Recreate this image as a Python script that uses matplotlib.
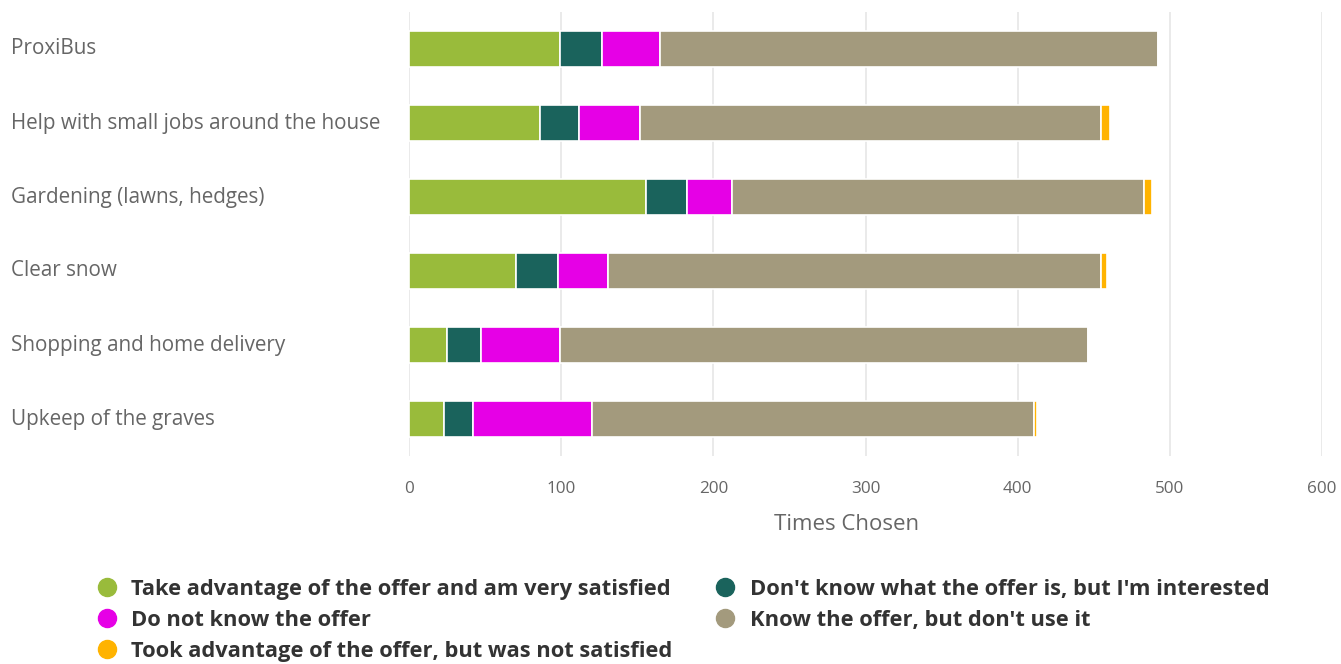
import matplotlib
matplotlib.use("Agg")
import matplotlib.pyplot as plt
from matplotlib.lines import Line2D
from matplotlib.transforms import blended_transform_factory
import numpy as np

plt.rcParams['font.family'] = ['Open Sans', 'DejaVu Sans']

categories = ["ProxiBus", "Help with small jobs around the house", "Gardening (lawns, hedges)",
              "Clear snow", "Shopping and home delivery", "Upkeep of the graves"]
series_names = ["Take advantage of the offer and am very satisfied",
                "Don't know what the offer is, but I'm interested",
                "Do not know the offer",
                "Know the offer, but don't use it",
                "Took advantage of the offer, but was not satisfied"]
very_satisfied = [99, 86, 156, 70, 25, 23]
interested = [28, 26, 27, 28, 22, 19]
not_know = [38, 40, 29, 33, 52, 78]
know_not_use = [327, 303, 271, 324, 347, 291]
not_satisfied = [0, 6, 5, 4, 0, 2]
colors = ["#99BB3B", "#1A635C", "#E600E6", "#A39A7D", "#FFB300"]
xticks = [0, 100, 200, 300, 400, 500, 600]

fig = plt.figure(figsize=(13.41, 6.64), dpi=100)
ax = fig.add_axes([409/1341, 1-456/664, (1322-409)/1341, (456-12)/664])

y = np.arange(len(categories))
left = np.zeros(len(categories))
series = [very_satisfied, interested, not_know, know_not_use, not_satisfied]
for vals, c in zip(series, colors):
    vals = np.array(vals, dtype=float)
    ax.barh(y, vals, left=left, height=0.48, color=c, edgecolor='white', linewidth=1.2, zorder=3)
    left += vals

ax.set_ylim(len(categories)-0.5, -0.5)
ax.set_xlim(0, 600)
ax.set_xticks(xticks)
ax.set_xticklabels([str(t) for t in xticks], fontsize=12.3, color='#666666')
ax.tick_params(axis='x', length=0, pad=18)
ax.set_yticks([])
ax.grid(axis='x', color='#e6e6e6', linewidth=1.2, zorder=0)
for s in ['top', 'right', 'bottom', 'left']:
    ax.spines[s].set_visible(False)
ax.set_xlabel("Times Chosen", fontsize=16, color='#666666')
ax.xaxis.set_label_coords((847-409)/(1322-409), -(524-456)/(456-12), transform=ax.transAxes)
ax.xaxis.label.set_va('center')

tr = blended_transform_factory(fig.transFigure, ax.transData)
for yi, cat in zip(y, categories):
    ax.text(11/1341, yi, cat, transform=tr, ha='left', va='center', fontsize=14.9, color='#666666')

handles = [Line2D([], [], marker='o', linestyle='none', markersize=13, markerfacecolor=c,
                  markeredgecolor=c) for c in colors]
order = [0, 2, 4, 1, 3]
leg = fig.legend([handles[i] for i in order], [series_names[i] for i in order],
                 ncol=2, loc='upper left', bbox_to_anchor=(96/1341, 1-579/664),
                 frameon=False, prop={'weight': 'bold', 'size': 15.75}, labelcolor='#333333',
                 handletextpad=0.62, columnspacing=1.9, labelspacing=0.45, handlelength=1.0,
                 borderaxespad=0, borderpad=0)

fig.savefig("out.png", dpi=100)
